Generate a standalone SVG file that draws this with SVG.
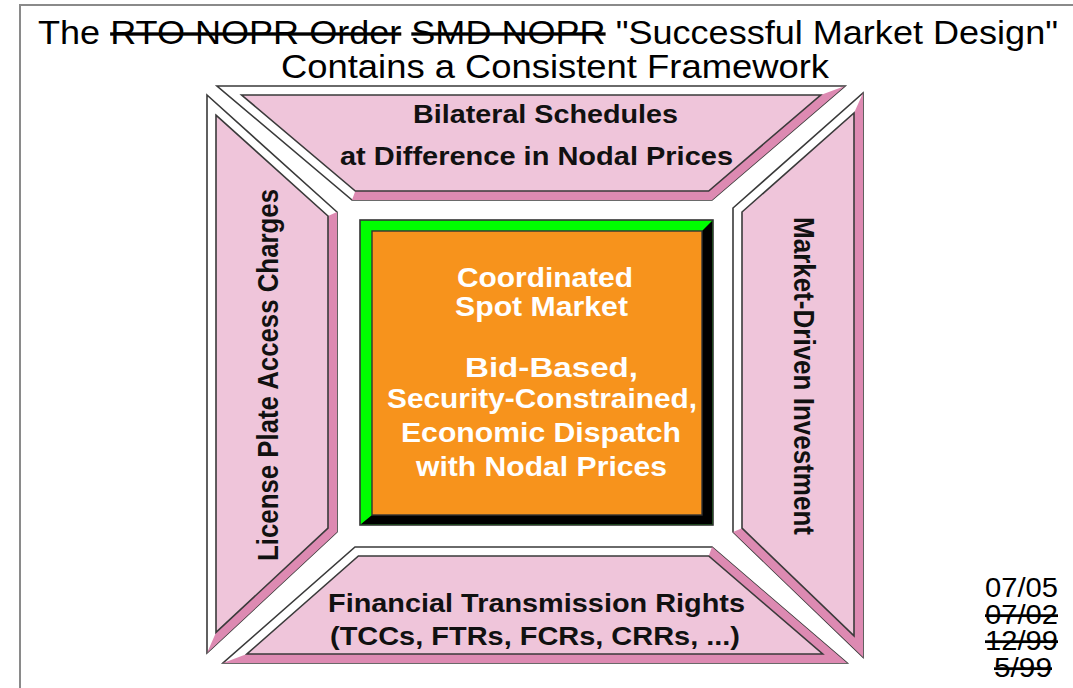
<svg xmlns="http://www.w3.org/2000/svg" width="1073" height="688" viewBox="0 0 1073 688">
<style>
  .frame{fill:none;stroke:#8a8a8a;stroke-width:2}
  .outer{fill:#ffffff;stroke:#3a3a3a;stroke-width:1.6;stroke-linejoin:miter}
  .dark{fill:#dd8ab2;stroke:none}
  .face{fill:#efc5da;stroke:#3a3a3a;stroke-width:1.6}
  .gouter{fill:#00ff00;stroke:#333;stroke-width:1.6}
  .blk{fill:#000000;stroke:none}
  .oface{fill:#f7931c;stroke:#333;stroke-width:1.4}
  text{font-family:"Liberation Sans",Arial,Helvetica,sans-serif}
  .title{font-size:33.5px;fill:#000}
  .lbl{font-size:26.5px;font-weight:bold;fill:#111}
  .ctr{font-size:28px;font-weight:bold;fill:#ffffff}
  .date{font-size:27.5px;fill:#000}
  .strike{text-decoration:line-through}
</style>
<rect class="frame" x="20" y="5" width="1100" height="720"/>
<g id="title">
  <text class="title" x="38" y="44" textLength="1020" lengthAdjust="spacingAndGlyphs">The <tspan class="strike">RTO NOPR Order</tspan> <tspan class="strike">SMD NOPR</tspan> "Successful Market Design"</text>
  <text class="title" x="281" y="78" textLength="548" lengthAdjust="spacingAndGlyphs">Contains a Consistent Framework</text>
</g>
<g id="connectors"></g>
<g id="top-panel">
  <polygon class="outer" points="217,86 845,86 712,200 352,200"/>
  <polygon class="dark" points="845,86 712,200 352,200 355.3,191 708.7,191 820.7,95"/>
  <polygon class="face" points="241.6,95 820.7,95 708.7,191 355.3,191"/>
  <text class="lbl" x="413" y="123" textLength="265" lengthAdjust="spacingAndGlyphs">Bilateral Schedules</text>
  <text class="lbl" x="340" y="165" textLength="393" lengthAdjust="spacingAndGlyphs">at Difference in Nodal Prices</text>
</g>
<g id="left-panel">
  <polygon class="outer" points="207,95 337,212 337,532 207,653"/>
  <polygon class="dark" points="337,212 337,532 207,653 216,632.4 328,528.1 328,216"/>
  <polygon class="face" points="216,115.2 328,216 328,528.1 216,632.4"/>
  <text class="lbl" text-anchor="middle" transform="translate(278,375) scale(1.08,1) rotate(-90)" x="0" y="0" textLength="372" lengthAdjust="spacingAndGlyphs">License Plate Access Charges</text>
</g>
<g id="right-panel">
  <polygon class="outer" points="733,208 863,93 863,657 733,532"/>
  <polygon class="dark" points="863,93 863,657 733,532 742,528.2 854,635.9 854,113"/>
  <polygon class="face" points="742,212 854,113 854,635.9 742,528.2"/>
  <text class="lbl" text-anchor="middle" transform="translate(794,376) scale(1.08,1) rotate(90)" x="0" y="0" textLength="318" lengthAdjust="spacingAndGlyphs">Market-Driven Investment</text>
</g>
<g id="bottom-panel">
  <polygon class="outer" points="355,547 712,547 847,663 223,663"/>
  <polygon class="dark" points="712,547 847,663 223,663 246.9,654 822.7,654 708.7,556"/>
  <polygon class="face" points="358.4,556 708.7,556 822.7,654 246.9,654"/>
  <text class="lbl" x="328" y="612" textLength="417" lengthAdjust="spacingAndGlyphs">Financial Transmission Rights</text>
  <text class="lbl" x="330" y="645" textLength="410" lengthAdjust="spacingAndGlyphs">(TCCs, FTRs, FCRs, CRRs, ...)</text>
</g>
<g id="center-box">
  <rect class="gouter" x="360" y="220" width="353" height="305"/>
  <polygon class="blk" points="712.2,220.8 712.2,524.2 360.8,524.2 372,515 702,515 702,231"/>
  <rect class="oface" x="372" y="231" width="330" height="284"/>
  <text class="ctr" x="457" y="287" textLength="176" lengthAdjust="spacingAndGlyphs">Coordinated</text>
  <text class="ctr" x="455" y="316" textLength="173" lengthAdjust="spacingAndGlyphs">Spot Market</text>
  <text class="ctr" x="465" y="377" textLength="173" lengthAdjust="spacingAndGlyphs">Bid-Based,</text>
  <text class="ctr" x="387" y="408" textLength="310" lengthAdjust="spacingAndGlyphs">Security-Constrained,</text>
  <text class="ctr" x="401" y="442" textLength="280" lengthAdjust="spacingAndGlyphs">Economic Dispatch</text>
  <text class="ctr" x="416" y="476" textLength="251" lengthAdjust="spacingAndGlyphs">with Nodal Prices</text>
</g>
<g id="dates">
  <text class="date" x="985" y="597" textLength="73" lengthAdjust="spacingAndGlyphs">07/05</text>
  <text class="date strike" x="985" y="624" textLength="73" lengthAdjust="spacingAndGlyphs">07/02</text>
  <text class="date strike" x="985" y="650" textLength="73" lengthAdjust="spacingAndGlyphs">12/99</text>
  <text class="date strike" x="994" y="677" textLength="58" lengthAdjust="spacingAndGlyphs">5/99</text>
</g>
</svg>
